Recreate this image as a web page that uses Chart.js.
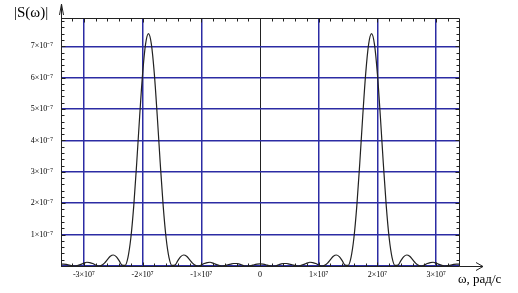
<!DOCTYPE html>
<html>
<head>
<meta charset="utf-8">
<script src="https://cdn.jsdelivr.net/npm/chart.js@4.4.0/dist/chart.umd.min.js"></script>
<style>
  html, body { margin: 0; padding: 0; background: #fff; }
  #wrap { width: 518px; height: 293px; position: relative; }
</style>
</head>
<body>
<div id="wrap"><canvas id="spectrum"></canvas></div>
<script>
// omega in units of 1e7 rad/s, |S(omega)| in units of 1e-7
const omega = [
  -3.40, -3.35, -3.30, -3.25, -3.20, -3.15, -3.10, -3.05, -3.00, -2.95,
  -2.90, -2.85, -2.80, -2.75, -2.70, -2.65, -2.60, -2.55, -2.50, -2.45,
  -2.40, -2.35, -2.30, -2.25, -2.20, -2.15, -2.10, -2.05, -2.00, -1.95,
  -1.90, -1.85, -1.80, -1.75, -1.70, -1.65, -1.60, -1.55, -1.50, -1.45,
  -1.40, -1.35, -1.30, -1.25, -1.20, -1.15, -1.10, -1.05, -1.00, -0.95,
  -0.90, -0.85, -0.80, -0.75, -0.70, -0.65, -0.60, -0.55, -0.50, -0.45,
  -0.40, -0.35, -0.30, -0.25, -0.20, -0.15, -0.10, -0.05, 0.00,
  0.05, 0.10, 0.15, 0.20, 0.25, 0.30, 0.35, 0.40, 0.45, 0.50,
  0.55, 0.60, 0.65, 0.70, 0.75, 0.80, 0.85, 0.90, 0.95, 1.00,
  1.05, 1.10, 1.15, 1.20, 1.25, 1.30, 1.35, 1.40, 1.45, 1.50,
  1.55, 1.60, 1.65, 1.70, 1.75, 1.80, 1.85, 1.90, 1.95, 2.00,
  2.05, 2.10, 2.15, 2.20, 2.25, 2.30, 2.35, 2.40, 2.45, 2.50,
  2.55, 2.60, 2.65, 2.70, 2.75, 2.80, 2.85, 2.90, 2.95, 3.00,
  3.05, 3.10, 3.15, 3.20, 3.25, 3.30, 3.35, 3.40
];
const spectrum = [
  0.06, 0.06, 0.05, 0.03, 0.01, 0.00, 0.02, 0.05, 0.09, 0.12,
  0.11, 0.08, 0.03, 0.00, 0.02, 0.09, 0.20, 0.31, 0.35, 0.30,
  0.17, 0.03, 0.02, 0.27, 0.90, 1.93, 3.29, 4.77, 6.12, 7.06,
  7.40, 7.06, 6.12, 4.77, 3.29, 1.93, 0.90, 0.27, 0.02, 0.03,
  0.17, 0.30, 0.35, 0.31, 0.20, 0.09, 0.02, 0.00, 0.03, 0.08,
  0.11, 0.12, 0.09, 0.05, 0.02, 0.00, 0.01, 0.04, 0.06, 0.08,
  0.08, 0.06, 0.03, 0.00, 0.00, 0.01, 0.04, 0.06, 0.07,
  0.06, 0.04, 0.01, 0.00, 0.00, 0.03, 0.06, 0.08, 0.08, 0.06,
  0.04, 0.01, 0.00, 0.02, 0.05, 0.09, 0.12, 0.11, 0.08, 0.03,
  0.00, 0.02, 0.09, 0.20, 0.31, 0.35, 0.30, 0.17, 0.03, 0.02,
  0.27, 0.90, 1.93, 3.29, 4.77, 6.12, 7.06, 7.40, 7.06, 6.12,
  4.77, 3.29, 1.93, 0.90, 0.27, 0.02, 0.03, 0.17, 0.30, 0.35,
  0.31, 0.20, 0.09, 0.02, 0.00, 0.03, 0.08, 0.11, 0.12, 0.09,
  0.05, 0.02, 0.00, 0.01, 0.03, 0.05, 0.06, 0.06
];
const xTicks = [-3, -2, -1, 0, 1, 2, 3];
const xTickLabels = ['-3×10⁷', '-2×10⁷', '-1×10⁷', '0', '1×10⁷', '2×10⁷', '3×10⁷'];
const yTicks = [0, 1, 2, 3, 4, 5, 6, 7];
const yTickLabels = ['', '1×10⁻⁷', '2×10⁻⁷', '3×10⁻⁷', '4×10⁻⁷', '5×10⁻⁷', '6×10⁻⁷', '7×10⁻⁷'];

const gridBlue = '#2c2ca4';
const tickFont = { family: 'Liberation Serif', size: 8 };

// frame, minor ticks, arrows and axis titles
const decorations = {
  id: 'decorations',
  afterDraw(chart) {
    const c = chart.ctx;
    const xs = chart.scales.x, ys = chart.scales.y;
    const L = Math.round(chart.chartArea.left) + 0.5;
    const R = Math.round(chart.chartArea.right) + 0.5;
    const T = Math.round(chart.chartArea.top) + 0.5;
    const B = Math.round(chart.chartArea.bottom) + 0.5;
    c.save();
    c.strokeStyle = '#222';
    c.lineWidth = 1;
    c.beginPath();
    c.moveTo(L, T); c.lineTo(R, T);
    c.moveTo(R, T); c.lineTo(R, B);
    // axis extensions
    c.moveTo(L, T); c.lineTo(L, 5);
    c.moveTo(R, B); c.lineTo(483, B);
    c.stroke();
    // arrow heads
    c.beginPath();
    c.moveTo(L - 2, 15); c.lineTo(L, 4); c.lineTo(L + 2, 15);
    c.moveTo(476, B - 4); c.lineTo(483, B); c.lineTo(476, B + 4);
    c.stroke();
    // minor ticks
    c.beginPath();
    for (let v = 0.2; v < ys.max; v += 0.2) {
      const y = Math.round(ys.getPixelForValue(v)) + 0.5;
      const len = Math.abs(v - Math.round(v)) < 0.01 ? 4 : 3;
      c.moveTo(L, y); c.lineTo(L + len, y);
      c.moveTo(R, y); c.lineTo(R - len, y);
    }
    for (let v = -3.2; v < xs.max; v += 0.2) {
      const x = Math.round(xs.getPixelForValue(v)) + 0.5;
      const len = Math.abs(v - Math.round(v)) < 0.01 ? 4 : 3;
      c.moveTo(x, T); c.lineTo(x, T + len);
      c.moveTo(x, B); c.lineTo(x, B - len);
    }
    c.stroke();
    // titles
    c.fillStyle = '#000';
    c.textBaseline = 'alphabetic';
    c.font = '15px "Liberation Serif"';
    c.textAlign = 'left';
    c.fillText('|S(ω)|', 14, 17);
    c.font = '13px "Liberation Serif"';
    c.fillText('ω, рад/с', 458, 283);
    c.restore();
  }
};

new Chart(document.getElementById('spectrum'), {
  type: 'line',
  data: {
    datasets: [{
      data: omega.map((w, i) => ({ x: w, y: spectrum[i] })),
      borderColor: '#222',
      borderWidth: 1.2,
      pointRadius: 0,
      fill: false,
      cubicInterpolationMode: 'monotone'
    }]
  },
  options: {
    responsive: true,
    maintainAspectRatio: false,
    animation: false,
    devicePixelRatio: 1,
    layout: { padding: { left: 0, top: 18, right: 59, bottom: 0 } },
    plugins: { legend: { display: false }, tooltip: { enabled: false } },
    scales: {
      x: {
        type: 'linear',
        min: -3.39,
        max: 3.39,
        afterBuildTicks: s => { s.ticks = xTicks.map(v => ({ value: v })); },
        afterFit: s => { s.height = 27; },
        ticks: {
          callback: v => xTickLabels[xTicks.indexOf(v)],
          font: tickFont,
          color: '#000',
          padding: 4,
          maxRotation: 0
        },
        grid: {
          color: ctx => ctx.tick && ctx.tick.value === 0 ? '#222' : gridBlue,
          lineWidth: ctx => ctx.tick && ctx.tick.value === 0 ? 1 : 1.5,
          drawTicks: false
        },
        border: { color: '#222' }
      },
      y: {
        min: 0,
        max: 7.9,
        afterBuildTicks: s => { s.ticks = yTicks.map(v => ({ value: v })); },
        afterFit: s => { s.width = 61; },
        ticks: {
          callback: v => yTickLabels[yTicks.indexOf(v)],
          font: tickFont,
          color: '#000',
          padding: 8
        },
        grid: {
          color: gridBlue,
          lineWidth: 1.5,
          drawTicks: false
        },
        border: { color: '#222' }
      }
    }
  },
  plugins: [decorations]
});
</script>
</body>
</html>
